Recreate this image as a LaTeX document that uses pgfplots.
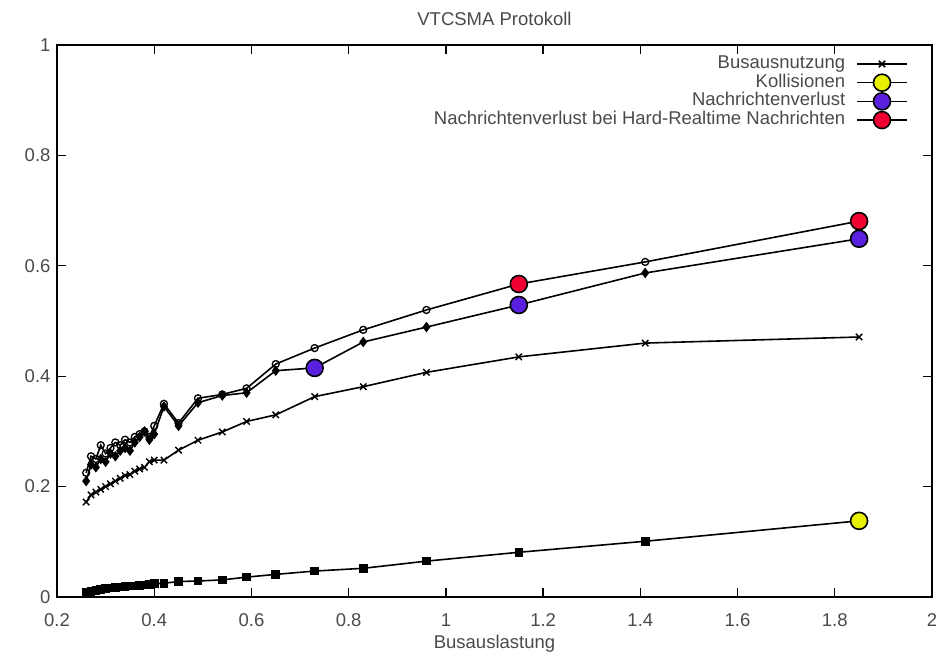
\documentclass[border=0pt]{standalone}
\usepackage{fontspec}
\setmainfont{Liberation Sans}
\usepackage{pgfplots}
\usepackage{pgfplotstable}
\pgfplotsset{compat=1.18}

\definecolor{txtgray}{HTML}{4A4A4A}
\definecolor{kollyellow}{HTML}{E6F000}
\definecolor{nvpurple}{HTML}{5A20E0}
\definecolor{hrtred}{HTML}{F00030}

% Busauslastung vs. measured rates
\pgfplotstableread{
x     bus    koll   nv     hrt
0.26  0.172  0.008  0.210  0.225
0.27  0.185  0.010  0.240  0.255
0.28  0.190  0.012  0.235  0.250
0.29  0.195  0.014  0.250  0.275
0.30  0.200  0.015  0.245  0.260
0.31  0.205  0.016  0.260  0.270
0.32  0.210  0.017  0.255  0.280
0.33  0.215  0.018  0.265  0.275
0.34  0.220  0.019  0.270  0.285
0.35  0.222  0.020  0.265  0.280
0.36  0.228  0.020  0.280  0.290
0.37  0.232  0.021  0.290  0.295
0.38  0.235  0.022  0.300  0.300
0.39  0.245  0.023  0.285  0.290
0.40  0.248  0.024  0.295  0.310
0.42  0.248  0.025  0.345  0.350
0.45  0.266  0.028  0.310  0.315
0.49  0.284  0.029  0.352  0.360
0.54  0.299  0.031  0.365  0.367
0.59  0.318  0.036  0.370  0.378
0.65  0.330  0.041  0.410  0.422
0.73  0.363  0.047  0.415  0.451
0.83  0.381  0.052  0.462  0.484
0.96  0.407  0.065  0.489  0.520
1.15  0.435  0.081  0.529  0.567
1.41  0.460  0.101  0.587  0.607
1.85  0.471  0.138  0.649  0.681
}\data

% highlighted points
\pgfplotstableread{
x     y
1.85  0.138
}\kollpts
\pgfplotstableread{
x     y
0.73  0.415
1.15  0.529
1.85  0.649
}\nvpts
\pgfplotstableread{
x     y
1.15  0.567
1.85  0.681
}\hrtpts

\begin{document}
\begin{tikzpicture}[x=1pt,y=1pt]
\begin{axis}[
  name=ax,
  scale only axis,
  width=875pt, height=552pt,
  xmin=0.2, xmax=2, ymin=0, ymax=1,
  xtick={0.2,0.4,...,2.01},
  ytick={0,0.2,...,1.01},
  tick align=inside,
  major tick length=9pt,
  axis line style={line width=1.6pt},
  every tick/.style={line width=1.4pt, black},
  /pgf/number format/assume math mode=true,
  tick label style={font=\fontsize{18.5}{20}\selectfont, text=txtgray},
  xticklabel style={yshift=-13pt},
  yticklabel style={xshift=-3pt},
  xlabel={Busauslastung},
  xlabel style={font=\fontsize{18.5}{20}\selectfont, text=txtgray, yshift=-2pt},
  title={VTCSMA Protokoll},
  title style={font=\fontsize{18.5}{20}\selectfont, text=txtgray, yshift=10pt},
  legend plot pos=right,
  legend cell align=right,
  legend style={
    at={(0.976,0.985)}, anchor=north east,
    draw=none, fill=none,
    font=\fontsize{18.5}{18.5}\selectfont, text=txtgray,
    row sep=1.7pt,
    nodes={inner sep=0pt, text height=13pt, text depth=4pt},
    /tikz/every odd column/.append style={column sep=11pt},
  },
  legend image code/.code={
    \draw[mark repeat=2, mark phase=2, #1]
      plot coordinates {(0pt,0pt) (25pt,0pt) (50pt,0pt)};
  },
  every axis plot/.append style={line width=1.6pt, black},
]
% data series
\addplot[mark=x, mark size=4.5pt, mark options={line width=1.4pt}, forget plot]
  table[x=x, y=bus] {\data};
\addplot[mark=square*, mark size=3.5pt, forget plot]
  table[x=x, y=koll] {\data};
\addplot[mark=diamond*, mark size=4pt, forget plot]
  table[x=x, y=nv] {\data};
\addplot[mark=o, mark size=3.5pt, mark options={line width=1.3pt}, forget plot]
  table[x=x, y=hrt] {\data};

% coloured highlight marks
\addplot[only marks, mark=*, mark size=8.5pt,
  mark options={fill=kollyellow, draw=black, line width=1.6pt}, forget plot]
  table {\kollpts};
\addplot[only marks, mark=*, mark size=8.5pt,
  mark options={fill=nvpurple, draw=black, line width=1.6pt}, forget plot]
  table {\nvpts};
\addplot[only marks, mark=*, mark size=8.5pt,
  mark options={fill=hrtred, draw=black, line width=1.6pt}, forget plot]
  table {\hrtpts};

% legend entries
\addlegendimage{line width=1.6pt, black, mark=x, mark size=4.5pt, mark options={line width=1.6pt}}
\addlegendentry{Busausnutzung}
\addlegendimage{line width=1.6pt, black, mark=*, mark size=8.5pt, mark options={fill=kollyellow, draw=black}}
\addlegendentry{Kollisionen}
\addlegendimage{line width=1.6pt, black, mark=*, mark size=8.5pt, mark options={fill=nvpurple, draw=black}}
\addlegendentry{Nachrichtenverlust}
\addlegendimage{line width=1.6pt, black, mark=*, mark size=8.5pt, mark options={fill=hrtred, draw=black}}
\addlegendentry{Nachrichtenverlust bei Hard-Realtime Nachrichten}
\end{axis}
\pgfresetboundingbox
\path ([shift={(-57pt,-59pt)}]ax.south west) rectangle ([shift={(19pt,45pt)}]ax.north east);
\end{tikzpicture}
\end{document}
